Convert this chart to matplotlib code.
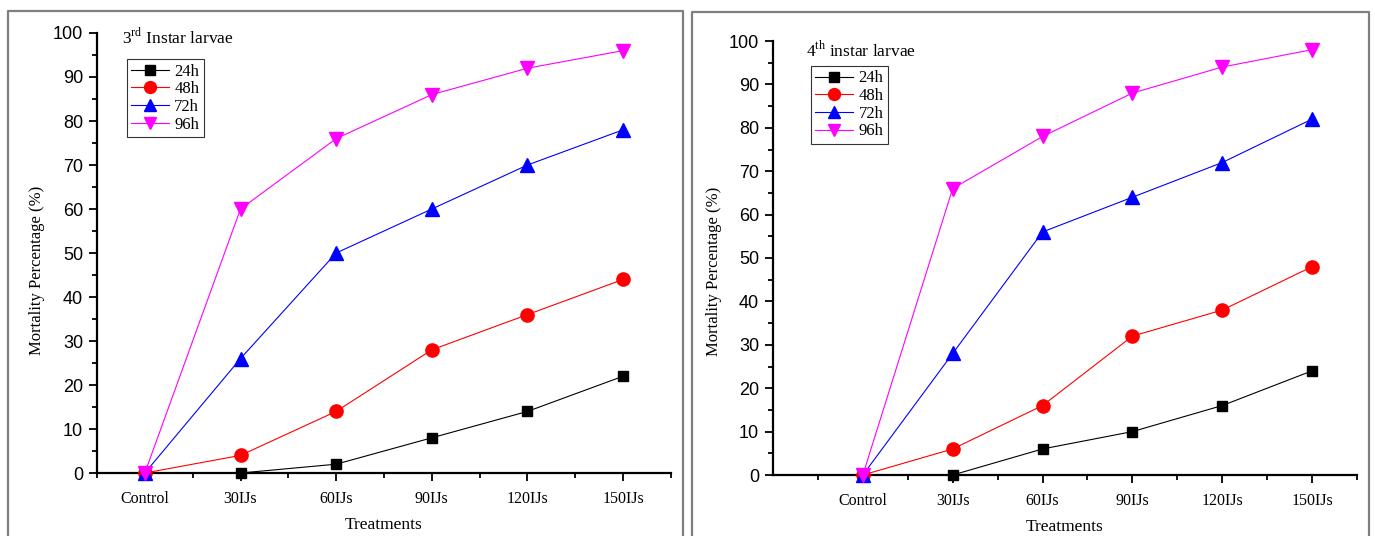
import numpy as np
import matplotlib
matplotlib.use('Agg')
import matplotlib.pyplot as plt
from matplotlib.lines import Line2D
from matplotlib.ticker import MultipleLocator, FixedLocator

plt.rcParams['mathtext.fontset'] = 'custom'
plt.rcParams['mathtext.rm'] = 'Liberation Serif'

# data
treatments = ['Control', '30IJs', '60IJs', '90IJs', '120IJs', '150IJs']
hours = ['24h', '48h', '72h', '96h']

third_24 = [0, 0, 2, 8, 14, 22]
third_48 = [0, 4, 14, 28, 36, 44]
third_72 = [0, 26, 50, 60, 70, 78]
third_96 = [0, 60, 76, 86, 92, 96]

fourth_24 = [0, 0, 6, 10, 16, 24]
fourth_48 = [0, 6, 16, 32, 38, 48]
fourth_72 = [0, 28, 56, 64, 72, 82]
fourth_96 = [0, 66, 78, 88, 94, 98]

colors = ['black', 'red', 'blue', 'magenta']
markers = ['s', 'o', '^', 'v']
sizes = [7.5, 9.5, 9.5, 9.5]

serif = 'Liberation Serif'
sans = 'Liberation Sans'

fig = plt.figure(figsize=(13.75, 5.36), dpi=100)

# grey frames round each panel
W, H = 1375.0, 536.0
for x0, x1, y0 in [(8, 683, 11), (692, 1369, 12)]:
    pts = [(x0, -5), (x0, y0), (x1, y0), (x1, -5)]
    fig.add_artist(Line2D([p[0] / W for p in pts], [1 - p[1] / H if p[1] > 0 else -0.01 for p in pts],
                          color='#7f7f7f', lw=1.6, transform=fig.transFigure))


def panel(rect, series, xmin, title, title_pos, leg_pos, ylab_xy):
    ax = fig.add_axes(rect)
    x = np.arange(1, len(treatments) + 1)
    for i, ys in enumerate(series):
        ax.plot(x, ys, color=colors[i], marker=markers[i], ms=sizes[i], lw=0.8,
                label=hours[i], clip_on=False, zorder=3 + i)
    ax.set_xlim(xmin, 6.5)
    ax.set_ylim(0, 100)
    ax.xaxis.set_major_locator(FixedLocator(x))
    ax.xaxis.set_minor_locator(FixedLocator(np.arange(0.5, 7, 1.0)))
    ax.set_xticklabels(treatments, fontfamily=serif, fontsize=11.5)
    ax.yaxis.set_major_locator(MultipleLocator(10))
    ax.yaxis.set_minor_locator(MultipleLocator(5))
    for lab in ax.get_yticklabels():
        lab.set_fontfamily(sans)
        lab.set_fontsize(13)
    ax.spines['top'].set_visible(False)
    ax.spines['right'].set_visible(False)
    ax.spines['left'].set_linewidth(1.6)
    ax.spines['bottom'].set_linewidth(1.6)
    ax.tick_params(which='major', direction='out', length=6, width=1.3, pad=4)
    ax.tick_params(which='minor', direction='out', length=3.5, width=1.3)
    ax.tick_params(axis='x', which='major', pad=7)
    ax.set_xlabel('Treatments', fontfamily=serif, fontsize=12.5, labelpad=7)
    ax.set_ylabel('Mortality Percentage (%)', fontfamily=serif, fontsize=12)
    ax.yaxis.set_label_coords(ylab_xy[0], ylab_xy[1])
    ax.text(title_pos[0], title_pos[1], title, transform=ax.transAxes, fontfamily=serif,
            fontsize=12.5, va='center', ha='left')
    leg = ax.legend(loc='upper left', bbox_to_anchor=leg_pos, prop={'family': serif, 'size': 12},
                    frameon=True, fancybox=False, edgecolor='black', handlelength=2.3,
                    handletextpad=0.3, borderpad=0.25, labelspacing=0.1, borderaxespad=0,
                    markerscale=0.9)
    leg.get_frame().set_linewidth(0.8)
    return ax


panel([97 / W, 1 - 473 / H, (671 - 97) / W, (473 - 33) / H],
      [third_24, third_48, third_72, third_96], 0.5,
      r'3$^{\rm rd}$ Instar larvae', (0.044, 0.99), (0.052, 0.94), (-0.09, 0.46))
panel([773 / W, 1 - 475 / H, (1357 - 773) / W, (475 - 41) / H],
      [fourth_24, fourth_48, fourth_72, fourth_96], 0.0,
      r'4$^{\rm th}$ instar larvae', (0.057, 0.978), (0.065, 0.942), (-0.088, 0.47))

plt.savefig('out.png', dpi=100)
